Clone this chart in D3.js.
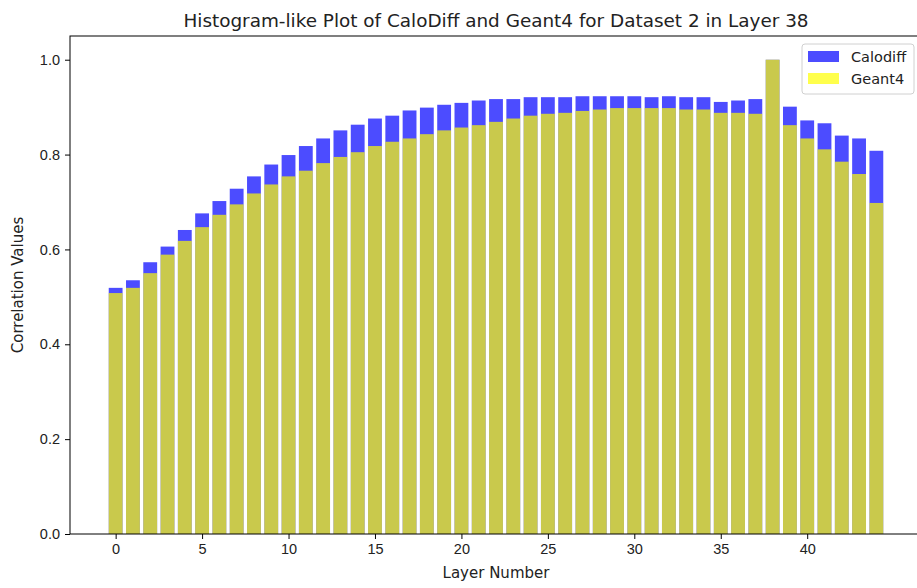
<!DOCTYPE html>
<html>
<head>
<meta charset="utf-8">
<script src="https://cdn.jsdelivr.net/npm/d3@7"></script>
<style>
    body { margin: 0; background: #fff; }
    svg { font-family: "DejaVu Sans", sans-serif; }
    .axis path, .axis line { stroke: #000; }
    .axis text { fill: #222; font-size: 14.5px; }
</style>
</head>
<body>
<svg id="chart"></svg>
<script>
// layer numbers 0..44
const layers = [0, 1, 2, 3, 4, 5, 6, 7, 8, 9, 10, 11, 12, 13, 14, 15, 16, 17, 18, 19, 20, 21,
    22, 23, 24, 25, 26, 27, 28, 29, 30, 31, 32, 33, 34, 35, 36, 37, 38, 39, 40, 41, 42, 43, 44];

const calodiff = [0.519, 0.535, 0.573, 0.606, 0.641, 0.676, 0.702, 0.728, 0.754, 0.779,
    0.799, 0.818, 0.834, 0.851, 0.863, 0.876, 0.882, 0.893, 0.899, 0.905,
    0.909, 0.914, 0.917, 0.917, 0.921, 0.921, 0.921, 0.923, 0.923, 0.923,
    0.923, 0.921, 0.923, 0.921, 0.921, 0.911, 0.914, 0.917, 1.0, 0.901,
    0.872, 0.866, 0.840, 0.834, 0.808];

const geant4 = [0.508, 0.519, 0.550, 0.589, 0.618, 0.647, 0.673, 0.695, 0.718, 0.737,
    0.754, 0.766, 0.782, 0.795, 0.805, 0.818, 0.827, 0.834, 0.843, 0.851,
    0.857, 0.862, 0.869, 0.876, 0.882, 0.886, 0.888, 0.892, 0.895, 0.898,
    0.898, 0.898, 0.898, 0.895, 0.895, 0.888, 0.888, 0.886, 1.0, 0.862,
    0.834, 0.811, 0.785, 0.759, 0.698];

const xTicks = [0, 5, 10, 15, 20, 25, 30, 35, 40];
const yTicks = [0.0, 0.2, 0.4, 0.6, 0.8, 1.0];

const width = 917, height = 588;
const margin = { top: 36, bottom: 54, left: 70, right: -5 };

const svg = d3.select("#chart")
    .attr("width", width)
    .attr("height", height);

// matplotlib style limits: bars span -0.4..44.4 plus 5% margin
const span = (layers[layers.length - 1] + 0.4) - (layers[0] - 0.4);
const xScale = d3.scaleLinear()
    .domain([layers[0] - 0.4 - span * 0.05, layers[layers.length - 1] + 0.4 + span * 0.05])
    .range([margin.left, width - margin.right]);

const yScale = d3.scaleLinear()
    .domain([0, 1.05])
    .range([height - margin.bottom, margin.top]);

const barW = 0.8;

function drawBars(values, color) {
    svg.append("g")
        .selectAll("rect")
        .data(values)
        .join("rect")
        .attr("x", (d, i) => xScale(layers[i] - barW / 2))
        .attr("width", xScale(barW) - xScale(0))
        .attr("y", d => yScale(d))
        .attr("height", d => yScale(0) - yScale(d))
        .attr("fill", color)
        .attr("fill-opacity", 0.7);
}

drawBars(calodiff, "blue");
drawBars(geant4, "yellow");

// axes
const xAxis = d3.axisBottom(xScale).tickValues(xTicks).tickFormat(d3.format("d"))
    .tickSize(5).tickPadding(5);
const yAxis = d3.axisLeft(yScale).tickValues(yTicks).tickFormat(d3.format(".1f"))
    .tickSize(5).tickPadding(5);

svg.append("g")
    .attr("class", "axis x-axis")
    .attr("transform", `translate(0,${yScale(0)})`)
    .call(xAxis)
    .call(g => g.select(".domain").remove());

svg.append("g")
    .attr("class", "axis y-axis")
    .attr("transform", `translate(${margin.left},0)`)
    .call(yAxis)
    .call(g => g.select(".domain").remove());

// spines
const x0 = margin.left, x1 = width - margin.right;
const y0 = margin.top, y1 = height - margin.bottom;
svg.append("rect")
    .attr("x", x0)
    .attr("y", y0)
    .attr("width", x1 - x0)
    .attr("height", y1 - y0)
    .attr("fill", "none")
    .attr("stroke", "#000")
    .attr("stroke-width", 1);

// title and labels
svg.append("text")
    .attr("x", (x0 + x1) / 2)
    .attr("y", 27)
    .attr("text-anchor", "middle")
    .style("font-size", "18.4px")
    .style("fill", "#222")
    .text("Histogram-like Plot of CaloDiff and Geant4 for Dataset 2 in Layer 38");

svg.append("text")
    .attr("x", (x0 + x1) / 2)
    .attr("y", 578)
    .attr("text-anchor", "middle")
    .style("font-size", "15px")
    .style("fill", "#222")
    .text("Layer Number");

svg.append("text")
    .attr("transform", "rotate(-90)")
    .attr("x", -(y0 + y1) / 2)
    .attr("y", 23)
    .attr("text-anchor", "middle")
    .style("font-size", "15px")
    .style("fill", "#222")
    .text("Correlation Values");

// legend
const legendKeys = ["Calodiff", "Geant4"];
const legendColors = ["blue", "yellow"];

const legend = svg.append("g").attr("transform", "translate(802,44)");
legend.append("rect")
    .attr("width", 112)
    .attr("height", 50)
    .attr("rx", 3)
    .attr("fill", "#fff")
    .attr("fill-opacity", 0.8)
    .attr("stroke", "#d0d0d0");

legend.selectAll("rect.swatch")
    .data(legendKeys)
    .join("rect")
    .attr("class", "swatch")
    .attr("x", 6)
    .attr("y", (d, i) => 7 + i * 22)
    .attr("width", 31)
    .attr("height", 11)
    .attr("fill", (d, i) => legendColors[i])
    .attr("fill-opacity", 0.7);

legend.selectAll("text")
    .data(legendKeys)
    .join("text")
    .attr("x", 49)
    .attr("y", (d, i) => 18 + i * 22)
    .style("font-size", "14.5px")
    .style("fill", "#222")
    .text(d => d);
</script>
</body>
</html>
